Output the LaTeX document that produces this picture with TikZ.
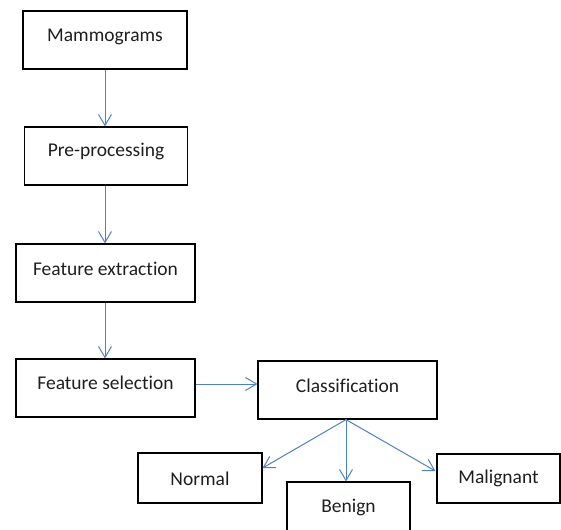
\documentclass[tikz,border=0pt]{standalone}
\usepackage{fontspec}
\setmainfont{Carlito}[Ligatures=NoCommon]
\usetikzlibrary{arrows.meta,calc}
\definecolor{arrowblue}{RGB}{79,129,189}
\definecolor{txt}{RGB}{30,30,30}
\begin{document}
\begin{tikzpicture}[x=1pt,y=-1pt,
  box/.style={draw=black, line width=1.2pt, inner sep=0pt, font=\fontsize{19.5}{22}\selectfont, text=txt, text height=14pt},
  flow/.style={draw=arrowblue, line width=1pt, -{Straight Barb[length=11pt,width=13pt,line width=1pt]}}]
\useasboundingbox (0,0) rectangle (561,529);
\node[box, minimum width=164pt, minimum height=58pt, text depth=10pt] (mam) at (105,40) {Mammograms};
\node[box, minimum width=163pt, minimum height=58pt, text depth=12pt] (pre) at (106,156) {Pre-processing};
\node[box, minimum width=179pt, minimum height=58pt, text depth=10pt] (fex) at (105.5,273) {Feature extraction};
\node[box, minimum width=179pt, minimum height=58pt, text depth=12pt] (fse) at (105.5,388) {Feature selection};
\node[box, minimum width=179pt, minimum height=58pt, text depth=10pt] (clf) at (347.5,390) {Classification};
\node[box, minimum width=124pt, minimum height=50pt, text depth=0pt] (nor) at (200,478) {Normal};
\node[box, minimum width=123pt, minimum height=50pt, text depth=4pt] (ben) at (348.5,507) {Benign};
\node[box, minimum width=123pt, minimum height=49pt, text depth=5pt] (mal) at (498.5,478.5) {Malignant};
\coordinate (split) at ($(clf.south)+(-1.5,0)$);
\draw[flow] (mam.south) -- (mam.south |- pre.north);
\draw[flow] (pre.south -| mam.south) -- (fex.north -| mam.south);
\draw[flow] (fex.south -| mam.south) -- (fse.north -| mam.south);
\draw[flow] (fse.east |- 0,384) -- (clf.west |- 0,384);
\draw[flow] (split) -- ($(nor.east)+(0,-10)$);
\draw[flow] (split) -- (ben.north -| split);
\draw[flow] (split) -- ($(mal.west)+(-1,-7.5)$);
\end{tikzpicture}
\end{document}
